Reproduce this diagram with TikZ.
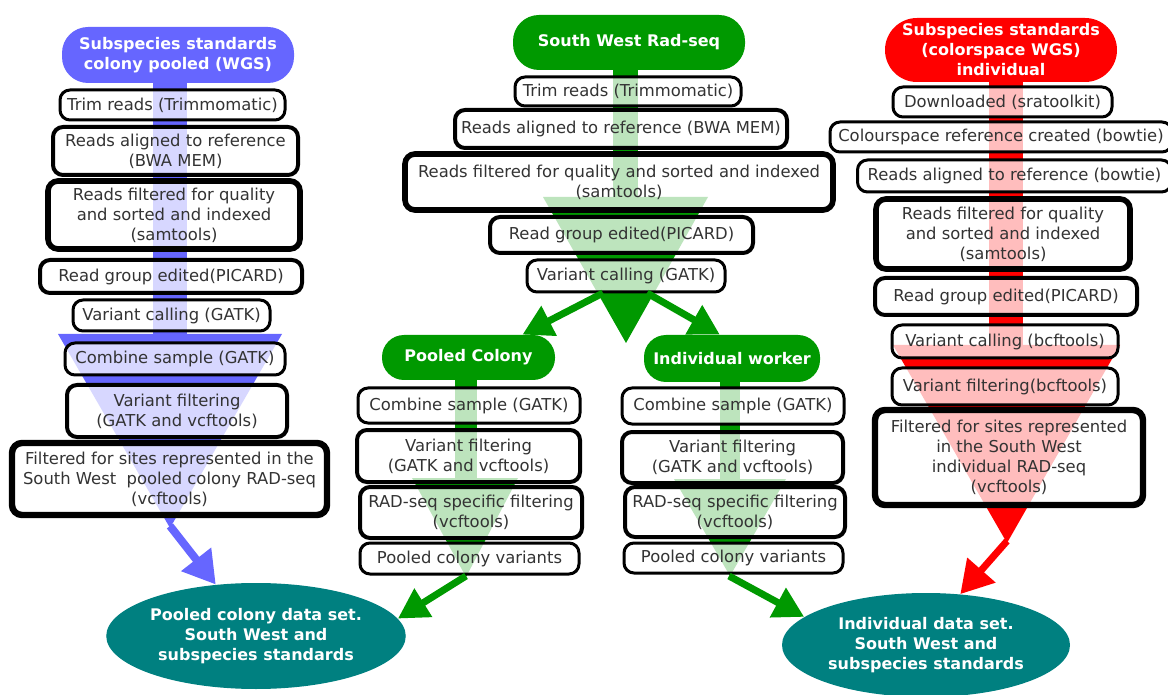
\documentclass[tikz,border=0pt]{standalone}
\usepackage{fontspec}
\setmainfont{DejaVu Sans}
\usetikzlibrary{arrows.meta,shapes.geometric}
\definecolor{bluestem}{RGB}{102,102,255}
\definecolor{greenstem}{RGB}{0,153,0}
\definecolor{redstem}{RGB}{255,0,0}
\definecolor{tealset}{RGB}{0,128,128}
\definecolor{boxtext}{RGB}{51,51,51}
\begin{document}
\begin{tikzpicture}
    [
    x=0.5pt,y=-0.5pt,
    stepbox/.style={draw=black,line width=1.5pt,rounded corners=5pt,fill=white,fill opacity=0.74,text opacity=1,text=boxtext,align=center,inner sep=0pt,font=\fontsize{8.2}{10}\selectfont},
    wide/.style={line width=2pt},
    heavy/.style={line width=2.8pt},
    pill/.style={rounded corners=13pt,text=white,align=center,inner sep=0pt,font=\bfseries\fontsize{8}{10}\selectfont},
    dataset/.style={ellipse,fill=tealset,text=white,align=center,inner sep=0pt,font=\bfseries\fontsize{8}{10}\selectfont},
    flow/.style={line width=3.5pt,-{Triangle[length=15pt,width=16pt]}}
    ]
    \useasboundingbox (0,0) rectangle (1168,695);
    % stems and funnels
    \fill [bluestem] (153,60) rectangle (187,336);
    \fill [bluestem] (58,334) -- (282,334) -- (170,528) -- cycle;
    \fill [greenstem] (613,40) rectangle (638,199);
    \fill [greenstem] (543,197) -- (708,197) -- (626,343) -- cycle;
    \fill [greenstem] (455,360) rectangle (477,480);
    \fill [greenstem] (412,478) -- (518,478) -- (466,577) -- cycle;
    \fill [greenstem] (720,360) rectangle (740,481);
    \fill [greenstem] (674,479) -- (786,479) -- (730,576) -- cycle;
    \fill [redstem] (989,60) rectangle (1023,347);
    \fill [redstem] (893,345) -- (1120,345) -- (1007,543) -- cycle;
    % left column
    \node (lhead) at (178,55) [pill,fill=bluestem,minimum width=116pt,minimum height=28pt] {Subspecies standards\\colony pooled (WGS)};
    \node (l1) at (172.5,105) [stepbox,minimum width=112.5pt,minimum height=15pt] {Trim reads (Trimmomatic)};
    \node (l2) at (175.5,151) [stepbox,wide,minimum width=122.5pt,minimum height=24pt] {Reads aligned to reference\\(BWA MEM)};
    \node (l3) at (174,215) [stepbox,heavy,minimum width=126pt,minimum height=34pt] {Reads filtered for quality\\and sorted and indexed\\(samtools)};
    \node (l4) at (171,276.5) [stepbox,wide,minimum width=131pt,minimum height=16.5pt] {Read group edited(PICARD)};
    \node (l5) at (171.5,315.5) [stepbox,minimum width=98.5pt,minimum height=15.5pt] {Variant calling (GATK)};
    \node (l6) at (175,359) [stepbox,minimum width=110pt,minimum height=16pt] {Combine sample (GATK)};
    \node (l7) at (177,411) [stepbox,wide,minimum width=110pt,minimum height=26pt] {Variant filtering\\(GATK and vcftools)};
    \node (l8) at (169.5,479) [stepbox,line width=3.2pt,minimum width=157.5pt,minimum height=36pt] {Filtered for sites represented in the\\South West\ \ pooled colony RAD-seq\\(vcftools)};
    % middle column
    \node (mhead) at (629,42.5) [pill,fill=greenstem,minimum width=116pt,minimum height=27.5pt] {South West Rad-seq};
    \node (m1) at (628,91.5) [stepbox,minimum width=113pt,minimum height=14.5pt] {Trim reads (Trimmomatic)};
    \node (m2) at (621,129) [stepbox,wide,minimum width=166pt,minimum height=19pt] {Reads aligned to reference (BWA MEM)};
    \node (m3) at (619,182) [stepbox,heavy,minimum width=214pt,minimum height=28pt] {Reads filtered for quality and sorted and indexed\\(samtools)};
    \node (m4) at (621.5,235) [stepbox,wide,minimum width=131.5pt,minimum height=18pt] {Read group edited(PICARD)};
    \node (m5) at (626,276) [stepbox,minimum width=99pt,minimum height=16pt] {Variant calling (GATK)};
    \node (pchead) at (468.5,357.5) [pill,fill=greenstem,rounded corners=11pt,minimum width=86.5pt,minimum height=22.5pt] {Pooled Colony};
    \node (p1) at (469,405.5) [stepbox,minimum width=111pt,minimum height=17.5pt] {Combine sample (GATK)};
    \node (p2) at (468.5,456) [stepbox,wide,minimum width=111.5pt,minimum height=26pt] {Variant filtering\\(GATK and vcftools)};
    \node (p3) at (471,512.5) [stepbox,wide,minimum width=111pt,minimum height=25.5pt] {RAD-seq specific filtering\\(vcftools)};
    \node (p4) at (469.5,558.5) [stepbox,minimum width=109.5pt,minimum height=15.5pt] {Pooled colony variants};
    \node (iwhead) at (732,358.5) [pill,fill=greenstem,rounded corners=11pt,minimum width=88pt,minimum height=23.5pt] {Individual worker};
    \node (i1) at (733,406) [stepbox,minimum width=111pt,minimum height=18pt] {Combine sample (GATK)};
    \node (i2) at (732.5,457.5) [stepbox,wide,minimum width=110.5pt,minimum height=25.5pt] {Variant filtering\\(GATK and vcftools)};
    \node (i3) at (735,512) [stepbox,wide,minimum width=110pt,minimum height=25pt] {RAD-seq specific filtering\\(vcftools)};
    \node (i4) at (733.5,558) [stepbox,minimum width=109.5pt,minimum height=15pt] {Pooled colony variants};
    % right column
    \node (rhead) at (1001,50) [pill,fill=redstem,rounded corners=16pt,minimum width=116pt,minimum height=32pt] {Subspecies standards\\(colorspace WGS)\\individual};
    \node (r1) at (1002.5,102) [stepbox,minimum width=109.5pt,minimum height=15pt] {Downloaded (sratoolkit)};
    \node (r2) at (1001,137) [stepbox,minimum width=171pt,minimum height=15pt] {Colourspace reference created (bowtie)};
    \node (r3) at (1014.5,176) [stepbox,minimum width=157pt,minimum height=16pt] {Reads aligned to reference (bowtie)};
    \node (r4) at (1003,234) [stepbox,heavy,minimum width=127pt,minimum height=35pt] {Reads filtered for quality\\and sorted and indexed\\(samtools)};
    \node (r5) at (1006,296.5) [stepbox,wide,minimum width=131pt,minimum height=18.5pt] {Read group edited(PICARD)};
    \node (r6) at (1005,341.5) [stepbox,minimum width=113pt,minimum height=16.5pt] {Variant calling (bcftools)};
    \node (r7) at (1005,386.5) [stepbox,minimum width=113pt,minimum height=18.5pt] {Variant filtering(bcftools)};
    \node (r8) at (1009,457.5) [stepbox,line width=3.2pt,minimum width=134pt,minimum height=47.5pt] {Filtered for sites represented\\in the South West\\individual RAD-seq\\(vcftools)};
    % data sets
    \node (lset) at (256,636) [dataset,minimum width=144pt,minimum height=53pt] {Pooled colony data set.\\South West and\\subspecies standards};
    \node (iset) at (926,645) [dataset,minimum width=144pt,minimum height=52pt] {Individual data set.\\South West and\\subspecies standards};
    % connectors
    \coordinate (ltip) at (170,526);
    \coordinate (msplitl) at (603,293);
    \coordinate (msplitr) at (647,293);
    \coordinate (ptip) at (466,576);
    \coordinate (itip) at (729,576);
    \coordinate (rtip) at (1007,541);
    \draw [flow,bluestem,line width=4pt,-{Triangle[length=16pt,width=18pt]}] (ltip) to (lset.128);
    \draw [flow,greenstem] (msplitl) to (pchead.23);
    \draw [flow,greenstem] (msplitr) to (iwhead.117);
    \draw [flow,greenstem] (ptip) to (lset.7);
    \draw [flow,greenstem] (itip) to (iset.167);
    \draw [flow,redstem,-{Triangle[length=16pt,width=18pt]}] (rtip) to (iset.56);
  \end{tikzpicture}
\end{document}
